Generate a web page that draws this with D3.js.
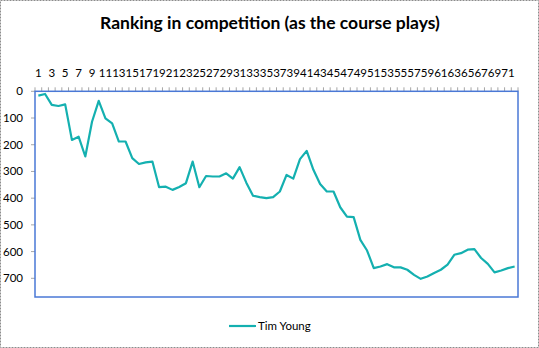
<!DOCTYPE html>
<html>
<head>
	<title> ranking chart </title>
	<script src="https://d3js.org/d3.v7.min.js"></script>
	<style>
		body { margin: 0; background: #fff; }
		text { font-family: Lato, "Open Sans", sans-serif; fill: #000; }
	</style>
</head>
<body>
	<svg width="539" height="348"></svg>
	<script type="text/javascript">
		// rounds played (category axis) and the ranking after each one
		let rounds = d3.range(1, 73);
		let ranks = [16,10,51,55,49,182,170,244,114,36,
			101,120,188,188,250,272,266,263,359,357,
			369,358,344,263,359,317,319,319,307,327,
			284,342,391,396,400,396,375,313,327,254,
			223,294,347,375,375,434,469,471,556,596,
			662,656,647,659,659,668,687,702,693,680,
			668,649,612,606,593,591,624,646,678,671,
			662,656];
		let xLabels = [1,3,5,7,9,11,13,15,17,19,21,23,25,27,29,31,33,35,
			37,39,41,43,45,47,49,51,53,55,57,59,61,63,65,67,69,71];
		let yTicks = [0,100,200,300,400,500,600,700];
		let seriesName = "Tim Young";

		let svg = d3.select("svg");
		let plotL = 35, plotR = 518, plotT = 91.3, plotB = 297;

		// outer dashed frame
		svg.append("rect").attr("x", 0.5).attr("y", 0.5).attr("width", 538).attr("height", 347)
			.attr("fill", "none").attr("stroke", "#8c8c8c").attr("stroke-dasharray", "2,1");

		svg.append("text").attr("x", 270).attr("y", 29).attr("text-anchor", "middle")
			.style("font-size", "17.5px").style("font-weight", "bold")
			.text("Ranking in competition (as the course plays)");

		let x = d3.scaleBand().domain(rounds).range([plotL, plotR]);
		let y = d3.scaleLinear().domain([0, 770]).range([plotT, plotB]);
		let bw = x.bandwidth();

		// top category axis: ticks between categories
		let bounds = rounds.map(d => x(d)).concat([plotR]);
		svg.selectAll(".xt").data(bounds).enter().append("line")
			.attr("x1", d => d).attr("x2", d => d).attr("y1", plotT - 4).attr("y2", plotT)
			.attr("stroke", "#a6a6a6").attr("stroke-width", 1);
		svg.selectAll(".xl").data(xLabels).enter().append("text")
			.attr("x", d => x(d) + bw / 2).attr("y", 77).attr("text-anchor", "middle")
			.style("font-size", "11.5px").text(d => d);

		// value axis (reversed)
		svg.selectAll(".yt").data(yTicks).enter().append("line")
			.attr("x1", plotL - 4).attr("x2", plotL).attr("y1", d => y(d)).attr("y2", d => y(d))
			.attr("stroke", "#a6a6a6").attr("stroke-width", 1);
		svg.selectAll(".yl").data(yTicks).enter().append("text")
			.attr("x", 23).attr("y", d => y(d) + 4).attr("text-anchor", "end")
			.style("font-size", "11.5px").text(d => d);

		// plot area border
		svg.append("rect").attr("x", plotL).attr("y", plotT).attr("width", plotR - plotL).attr("height", plotB - plotT)
			.attr("fill", "none").attr("stroke", "#4a78d6").attr("stroke-width", 1.5);

		let line = d3.line().x((d, i) => x(rounds[i]) + bw / 2).y(d => y(d));
		svg.append("path").datum(ranks).attr("d", line)
			.attr("fill", "none").attr("stroke", "#14b0b0").attr("stroke-width", 2.2)
			.attr("stroke-linejoin", "round");

		// legend
		svg.append("line").attr("x1", 229).attr("x2", 256).attr("y1", 326).attr("y2", 326)
			.attr("stroke", "#14b0b0").attr("stroke-width", 2.2);
		svg.append("text").attr("x", 258).attr("y", 330).style("font-size", "11.5px").text(seriesName);
	</script>
</body>
</html>
